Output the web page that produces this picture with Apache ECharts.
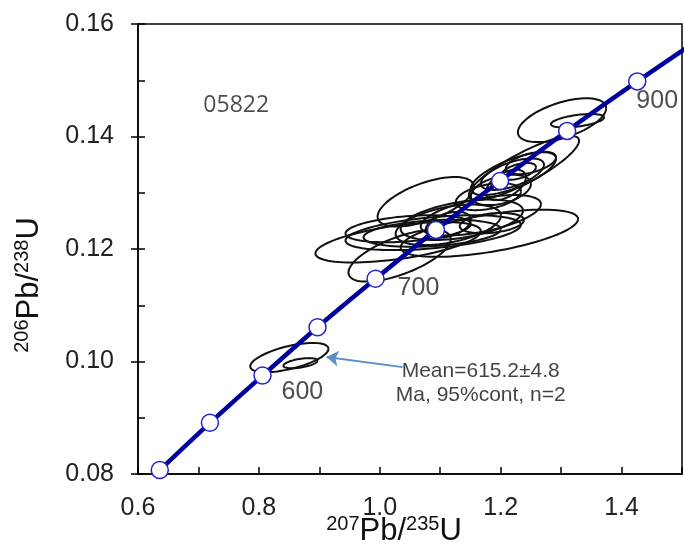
<!DOCTYPE html>
<html>
<head>
<meta charset="utf-8">
<script src="https://cdn.jsdelivr.net/npm/echarts@6/dist/echarts.min.js"></script>
<style>
    html, body { margin: 0; padding: 0; background: #fff; }
    #chart { width: 684px; height: 550px; }
</style>
</head>
<body>
<div id="chart"></div>
<script>
    // concordia curve (207Pb/235U, 206Pb/238U)
    const concX = [0.636, 0.719, 0.806, 0.897, 0.993, 1.093, 1.199, 1.310, 1.426, 1.549];
    const concY = [0.0807, 0.0891, 0.0975, 0.1061, 0.1147, 0.1234, 0.1321, 0.1410, 0.1498, 0.1588];

    // age labels on the curve
    const ageText = ['600', '700', '900'];
    const ageX = [0.872, 1.064, 1.459];
    const ageY = [0.0946, 0.1130, 0.1463];

    // error ellipses: centre, half-width, half-height, correlation
    const ellX   = [0.8504, 0.8687, 1.3015, 1.3272, 1.2385, 1.2211, 1.2194, 1.2294, 1.2003, 1.1796, 1.0760, 1.1813, 1.0303, 1.0328, 1.0469, 1.1133, 1.1672, 1.0867, 1.1357, 1.1133, 1.0884, 1.2501, 1.2086, 1.1854];
    const ellY   = [0.1007, 0.0997, 0.1429, 0.1428, 0.1344, 0.1334, 0.1333, 0.1338, 0.1305, 0.1293, 0.1284, 0.1228, 0.1212, 0.1188, 0.1236, 0.1243, 0.1260, 0.1228, 0.1252, 0.1243, 0.1229, 0.1353, 0.1314, 0.1246];
    const ellRx  = [0.0647, 0.0282, 0.0730, 0.0439, 0.0912, 0.0705, 0.0522, 0.0290, 0.0498, 0.0539, 0.0796, 0.1468, 0.1368, 0.0846, 0.1036, 0.0871, 0.0995, 0.1136, 0.1012, 0.0373, 0.1451, 0.0415, 0.0332, 0.0531];
    const ellRy  = [0.0026, 0.0009, 0.0039, 0.0012, 0.0057, 0.0038, 0.0028, 0.0015, 0.0027, 0.0024, 0.0044, 0.0042, 0.0036, 0.0046, 0.0024, 0.0036, 0.0036, 0.0024, 0.0036, 0.0023, 0.0031, 0.0020, 0.0027, 0.0018];
    const ellRho = [0.6, 0.5, 0.55, 0.5, 0.85, 0.7, 0.6, 0.5, 0.4, 0.4, 0.6, 0.6, 0.55, 0.65, 0.35, 0.45, 0.55, 0.3, 0.45, 0.4, 0.45, 0.5, 0.5, 0.3];

    const sampleName = '05822';
    const meanText = ['Mean=615.2±4.8', 'Ma, 95%cont, n=2'];
    const meanPos = [1.167, 0.0962];
    const arrowFrom = [1.0378, 0.0990];
    const arrowTo = [0.9118, 0.1008];

    const font = 'Liberation Sans, Arial, sans-serif';

    const myChart = echarts.init(document.getElementById('chart'));

    const ellData = ellX.map((x, i) => [x, ellY[i], ellRx[i], ellRy[i], ellRho[i]]);
    const concData = concX.map((x, i) => [x, concY[i]]);

    const nameRich = {
        b: { fontFamily: font, fontSize: 31, color: '#111', lineHeight: 34 },
        sup: { fontFamily: font, fontSize: 20, color: '#111', verticalAlign: 'top', lineHeight: 34, padding: [0, 0, 10, 0] }
    };

    const option = {
        animation: false,
        grid: {
            left: 138, right: 2, top: 24, bottom: 76,
            containLabel: false, outerBoundsMode: 'none',
            show: true, borderColor: '#000', borderWidth: 1.5, backgroundColor: '#fff'
        },
        xAxis: {
            type: 'value', min: 0.6, max: 1.5, interval: 0.1,
            name: '{sup|207}{b|Pb/}{sup|235}{b|U}',
            nameLocation: 'middle', nameGap: 40, nameMoveOverlap: false,
            nameTextStyle: { padding: [0, 32, 0, 0], rich: nameRich },
            axisLine: { lineStyle: { color: '#000', width: 1.5 } },
            axisTick: { inside: true, length: 7, lineStyle: { color: '#000', width: 1.5 } },
            axisLabel: {
                margin: 22, fontFamily: font, fontSize: 25, color: '#222',
                formatter: function (v) {
                    return Math.round(v * 10) % 2 === 0 ? v.toFixed(1) : '';
                }
            },
            splitLine: { show: false }
        },
        yAxis: [
            {
                type: 'value', min: 0.08, max: 0.16, interval: 0.02,
                name: '{sup|206}{b|Pb/}{sup|238}{b|U}',
                nameLocation: 'middle', nameGap: 92, nameMoveOverlap: false,
                nameTextStyle: { padding: [0, 72, 0, 0], rich: nameRich },
                axisLine: { lineStyle: { color: '#000', width: 1.5 } },
                axisTick: { inside: false, length: 7, lineStyle: { color: '#000', width: 1.5 } },
                axisLabel: {
                    margin: 24, fontFamily: font, fontSize: 25, color: '#222',
                    formatter: v => v.toFixed(2)
                },
                splitLine: { show: false }
            },
            {
                // inner minor ticks
                type: 'value', min: 0.08, max: 0.16, interval: 0.01, position: 'left',
                axisLine: { show: false },
                axisTick: { inside: true, length: 7, lineStyle: { color: '#000', width: 1.5 } },
                axisLabel: { show: false },
                splitLine: { show: false }
            }
        ],
        series: [
            {
                type: 'custom',
                z: 2,
                clip: true,
                data: ellData,
                encode: { x: 0, y: 1 },
                renderItem: function (params, api) {
                    const cx = api.value(0), cy = api.value(1);
                    const rx = api.value(2), ry = api.value(3), rho = api.value(4);
                    const s = Math.sqrt(1 - rho * rho);
                    const pts = [];
                    for (let k = 0; k <= 90; k++) {
                        const t = k / 90 * 2 * Math.PI;
                        pts.push(api.coord([cx + rx * Math.cos(t), cy + ry * (rho * Math.cos(t) + s * Math.sin(t))]));
                    }
                    return {
                        type: 'polyline',
                        shape: { points: pts },
                        style: { fill: null, stroke: '#111', lineWidth: 2 }
                    };
                }
            },
            {
                type: 'line',
                z: 5,
                data: concData,
                clip: true,
                smooth: 0.2,
                lineStyle: { color: '#00009c', width: 4.5 },
                symbol: 'circle',
                symbolSize: 17,
                showAllSymbol: true,
                itemStyle: { color: '#fff', borderColor: '#2323c8', borderWidth: 1.5 }
            },
            {
                type: 'scatter',
                z: 6,
                symbolSize: 0,
                data: ageX.map((x, i) => [x, ageY[i], ageText[i]]),
                label: {
                    show: true, position: 'inside',
                    formatter: p => p.value[2],
                    fontFamily: font, fontSize: 25, color: '#222'
                }
            },
            {
                type: 'scatter',
                z: 6,
                symbolSize: 0,
                data: [[0.7625, 0.1456, sampleName]],
                label: {
                    show: true, position: 'inside',
                    formatter: p => p.value[2],
                    fontFamily: 'Open Sans, sans-serif', fontSize: 23, color: '#222'
                }
            },
            {
                type: 'scatter',
                z: 6,
                symbolSize: 0,
                data: [[meanPos[0], meanPos[1], meanText.join('\n')]],
                label: {
                    show: true, position: 'inside',
                    formatter: p => p.value[2],
                    fontFamily: font, fontSize: 21, color: '#111', lineHeight: 24, align: 'center'
                }
            },
            {
                type: 'lines',
                coordinateSystem: 'cartesian2d',
                z: 6,
                symbol: ['none', 'arrow'],
                symbolSize: 12,
                lineStyle: { color: '#5b8ec8', width: 2, opacity: 1 },
                data: [{ coords: [arrowFrom, arrowTo] }]
            }
        ]
    };
    myChart.setOption(option);
</script>
</body>
</html>
